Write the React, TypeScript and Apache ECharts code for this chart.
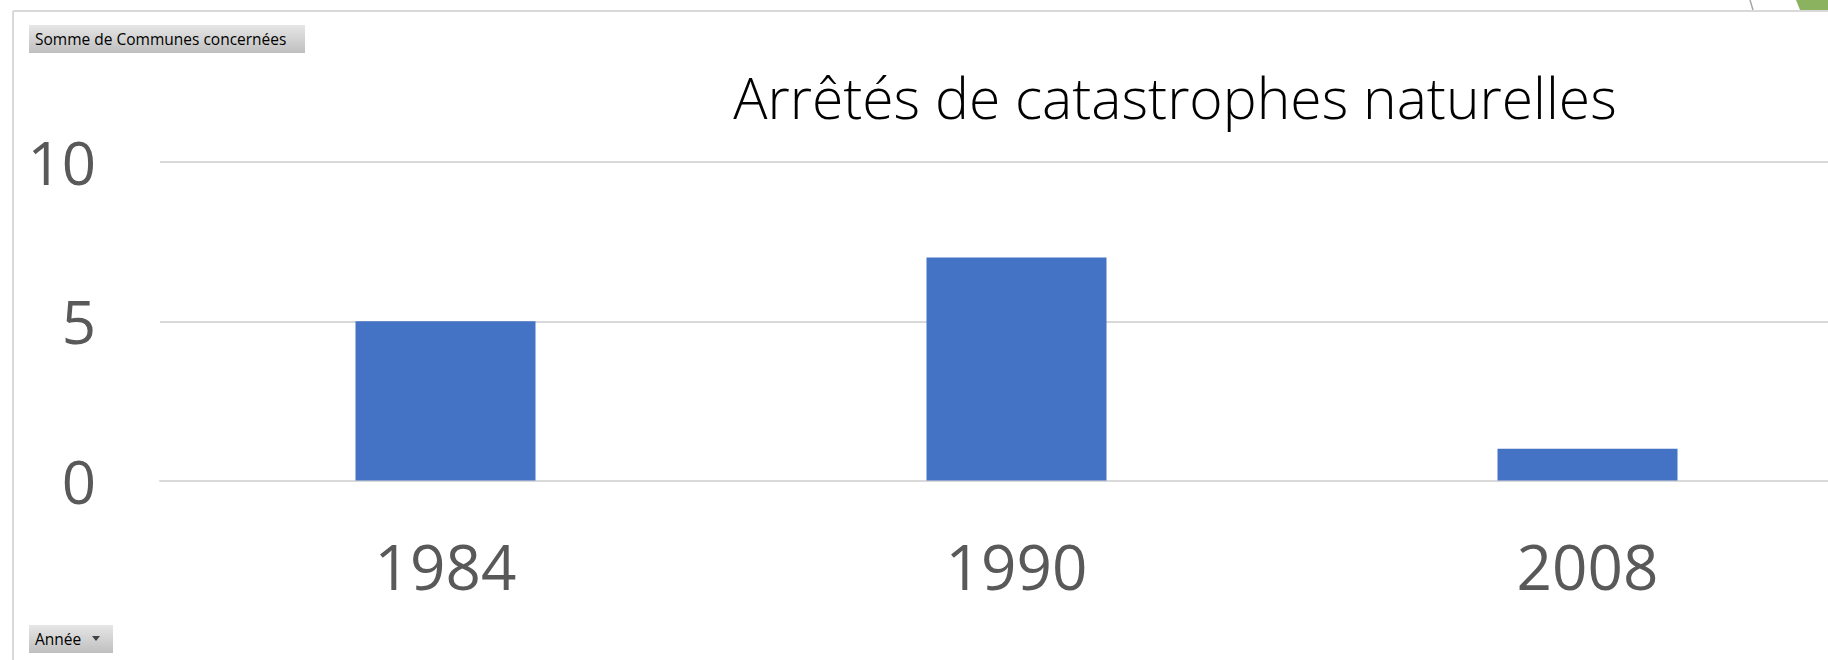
import React, { useEffect, useRef } from "react";
import * as echarts from "echarts";

const categories = ["1984", "1990", "2008"];
const communes = [5, 7, 1];
const yTicks = [0, 5, 10];

const FONT = "'Open Sans', 'Noto Sans', sans-serif";

export default function App() {
  const ref = useRef<HTMLDivElement>(null);
  useEffect(() => {
    if (!ref.current) return;
    const chart = echarts.init(ref.current, undefined, { renderer: "svg" });
    const btnFill = new echarts.graphic.LinearGradient(0, 0, 0, 1, [
      { offset: 0, color: "#e6e6e6" },
      { offset: 1, color: "#bfbfbf" },
    ]);
    const btnFill2 = new echarts.graphic.LinearGradient(0, 0, 0, 1, [
      { offset: 0, color: "#e6e6e6" },
      { offset: 1, color: "#bfbfbf" },
    ]);
    chart.setOption({
      animation: false,
      backgroundColor: "#ffffff",
      title: {
        text: "Arrêtés de catastrophes naturelles",
        left: 1170,
        top: 63,
        textAlign: "center",
        textStyle: {
          fontFamily: FONT,
          fontWeight: 300,
          fontSize: 57,
          lineHeight: 57,
          color: "#000000",
        },
      },
      grid: { left: 160, top: 162, width: 1713, height: 318.5 },
      xAxis: {
        type: "category",
        data: categories,
        axisLine: { show: true, lineStyle: { color: "#d9d9d9", width: 2 } },
        axisTick: { show: false },
        axisLabel: {
          margin: 54,
          fontFamily: FONT,
          fontSize: 62,
          lineHeight: 62,
          color: "#595959",
        },
      },
      yAxis: {
        type: "value",
        min: yTicks[0],
        max: yTicks[yTicks.length - 1],
        interval: yTicks[1] - yTicks[0],
        axisLine: { show: false },
        axisTick: { show: false },
        splitLine: { lineStyle: { color: "#d9d9d9", width: 2 } },
        axisLabel: {
          margin: 64,
          fontFamily: FONT,
          fontSize: 60,
          color: "#595959",
        },
      },
      series: [
        {
          type: "bar",
          data: communes,
          barWidth: 180,
          itemStyle: { color: "#4472c4" },
        },
      ],
      graphic: [
        { type: "line", shape: { x1: 13, y1: 11, x2: 1828, y2: 11 }, style: { stroke: "#d9d9d9", lineWidth: 2 } },
        { type: "line", shape: { x1: 13, y1: 11, x2: 13, y2: 660 }, style: { stroke: "#d9d9d9", lineWidth: 2 } },
        { type: "line", shape: { x1: 1750, y1: 0, x2: 1753, y2: 10 }, style: { stroke: "#a6a6a6", lineWidth: 1.5 } },
        { type: "polygon", shape: { points: [[1796, 0], [1828, 0], [1828, 10], [1800, 10]] }, style: { fill: "#8bb25f" } },
        { type: "rect", shape: { x: 29, y: 25, width: 276, height: 28 }, style: { fill: btnFill } },
        {
          type: "text",
          x: 35,
          y: 39,
          style: { text: "Somme de Communes concernées", font: `15.5px ${FONT}`, fill: "#000000", verticalAlign: "middle" },
        },
        { type: "rect", shape: { x: 29, y: 625, width: 84, height: 28 }, style: { fill: btnFill2 } },
        {
          type: "text",
          x: 35,
          y: 639,
          style: { text: "Année", font: `15.5px ${FONT}`, fill: "#000000", verticalAlign: "middle" },
        },
        { type: "polygon", shape: { points: [[92, 636], [100, 636], [96, 641]] }, style: { fill: "#404040" } },
      ],
    });
    return () => chart.dispose();
  }, []);
  return (
    <div style={{ position: "absolute", left: 0, top: 0, width: 1828, height: 660, overflow: "hidden" }}>
      <div ref={ref} style={{ width: 1900, height: 660 }} />
    </div>
  );
}
